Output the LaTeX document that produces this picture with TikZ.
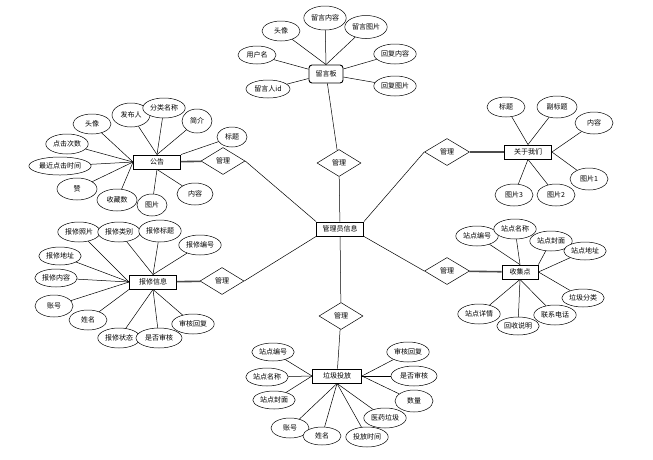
\documentclass[tikz,border=0pt]{standalone}
\usepackage{fontspec}
\newfontfamily\cjk{Noto Sans CJK SC}
\usepackage{tikz}
\usetikzlibrary{shapes.geometric}

\tikzset{
  entity/.style={draw, line width=0.9pt, fill=white, minimum width=47pt, minimum height=14pt, inner sep=1pt, font={\cjk\fontsize{7}{8}\selectfont}},
  attr/.style={draw, ellipse, line width=0.5pt, fill=white, inner sep=1pt, minimum width=38pt, minimum height=20pt, font={\cjk\fontsize{7}{8}\selectfont}},
  rel/.style={draw, diamond, line width=0.5pt, fill=white, inner sep=0pt, minimum width=44pt, minimum height=27pt, font={\cjk\fontsize{7}{8}\selectfont}},
  heavy/.style={line width=1.6pt, black!70}
}

\begin{document}
\begin{tikzpicture}[x=1pt, y=-1pt, line width=0.5pt]
        \useasboundingbox (0,0) rectangle (653,459);

        % Central entity
        \node[entity] (gly) at (340,229) {管理员信息};

        % Message board
        \node[entity, rounded corners=3pt, minimum width=34pt, minimum height=18pt] (lyb) at (326,74) {留言板};
        \node[rel] (r1) at (339,163) {管理};
        \node[attr] (ly1) at (281,31) {头像};
        \node[attr, minimum height=24pt] (ly2) at (325,18) {留言内容};
        \node[attr, minimum height=23pt] (ly3) at (366,27) {留言图片};
        \node[attr, minimum height=18pt] (ly4) at (257,55) {用户名};
        \node[attr] (ly5) at (395,54) {回复内容};
        \node[attr] (ly6) at (395,86) {回复图片};
        \node[attr, minimum width=44pt, minimum height=18pt] (ly7) at (268,89) {留言人id};
        \foreach \a/\b in {lyb.north/ly1, lyb.north/ly2, lyb.north/ly3, lyb/ly4, lyb/ly5, lyb/ly6, lyb/ly7}
            \draw (\a) -- (\b);
        \draw (lyb) -- (r1);
        \draw (r1) -- (gly);

        % Notices
        \node[entity] (gg) at (157,162) {公告};
        \node[rel] (r2) at (223,161) {管理};
        \node[attr] (gg1) at (92,124) {头像};
        \node[attr, minimum height=24pt] (gg2) at (131,115) {发布人};
        \node[attr] (gg3) at (164,108) {分类名称};
        \node[attr, minimum width=30pt, minimum height=24pt] (gg4) at (197,121) {简介};
        \node[attr, minimum width=30pt] (gg5) at (232,137) {标题};
        \node[attr] (gg6) at (67,144) {点击次数};
        \node[attr, minimum height=18pt] (gg7) at (60,166) {最近点击时间};
        \node[attr, minimum width=40pt, minimum height=22pt] (gg8) at (77,189) {赞};
        \node[attr, minimum width=40pt, minimum height=22pt] (gg9) at (117,200) {收藏数};
        \node[attr, minimum width=30pt, minimum height=22pt] (gg10) at (152,205) {图片};
        \node[attr, minimum width=36pt, minimum height=22pt] (gg11) at (195,194) {内容};
        \foreach \a/\b in {gg.west/gg1, gg.north/gg2, gg.north/gg3, gg.north/gg4, gg.north east/gg5,
                           gg.west/gg6, gg.west/gg7, gg.west/gg8, gg.west/gg9, gg.south/gg10, gg.south/gg11}
            \draw (\a) -- (\b);
        \draw[heavy] (gg) -- (r2);
        \draw (r2.east) -- (gly.north west);

        % Repair requests
        \node[entity] (bx) at (153,282) {报修信息};
        \node[rel] (r3) at (222,281) {管理};
        \node[attr] (bx1) at (79,232) {报修照片};
        \node[attr] (bx2) at (119,232) {报修类别};
        \node[attr, minimum height=22pt] (bx3) at (160,231) {报修标题};
        \node[attr] (bx4) at (200,245) {报修编号};
        \node[attr, minimum height=18pt] (bx5) at (60,256) {报修地址};
        \node[attr, minimum height=18pt] (bx6) at (56,278) {报修内容};
        \node[attr, minimum height=22pt] (bx7) at (54,306) {账号};
        \node[attr] (bx8) at (88,320) {姓名};
        \node[attr] (bx9) at (119,338) {报修状态};
        \node[attr, minimum width=46pt] (bx10) at (159,338) {是否审核};
        \node[attr] (bx11) at (193,324) {审核回复};
        \foreach \a/\b in {bx.west/bx1, bx.north/bx2, bx.north/bx3, bx.north/bx4, bx.west/bx5, bx.west/bx6,
                           bx.west/bx7, bx.south west/bx8, bx.south/bx9, bx.south/bx10, bx.south/bx11}
            \draw (\a) -- (\b);
        \draw[heavy] (bx) -- (r3);
        \draw (r3.east) -- (gly.south west);

        % Waste drop-off
        \node[entity, minimum width=49pt] (lj) at (337,376) {垃圾投放};
        \node[rel] (r4) at (341,316) {管理};
        \node[attr, minimum height=18pt] (lj1) at (273,352) {站点编号};
        \node[attr, minimum height=18pt] (lj2) at (267,377) {站点名称};
        \node[attr, minimum height=18pt] (lj3) at (274,400) {站点封面};
        \node[attr] (lj4) at (290,428) {账号};
        \node[attr, minimum height=18pt] (lj5) at (322,436) {姓名};
        \node[attr] (lj6) at (367,437) {投放时间};
        \node[attr] (lj7) at (385,418) {医药垃圾};
        \node[attr, minimum height=22pt] (lj8) at (414,401) {数量};
        \node[attr, minimum width=46pt] (lj9) at (414,376) {是否审核};
        \node[attr] (lj10) at (408,352) {审核回复};
        \foreach \a/\b in {lj.west/lj1, lj.west/lj2, lj.west/lj3, lj.south/lj4, lj.south/lj5, lj.south/lj6,
                           lj.south/lj7, lj.east/lj8, lj.east/lj9, lj.east/lj10}
            \draw (\a) -- (\b);
        \draw (gly) -- (r4);
        \draw (r4) -- (lj);

        % About us
        \node[entity] (gy) at (528,152) {关于我们};
        \node[rel, minimum width=45pt] (r5) at (447,152) {管理};
        \node[attr] (gy1) at (506,107) {标题};
        \node[attr, minimum width=40pt, minimum height=22pt] (gy2) at (557,107) {副标题};
        \node[attr, minimum height=22pt] (gy3) at (594,123) {内容};
        \node[attr, minimum height=22pt] (gy4) at (589,179) {图片1};
        \node[attr, minimum height=22pt] (gy5) at (556,195) {图片2};
        \node[attr, minimum height=22pt] (gy6) at (514,195) {图片3};
        \foreach \a/\b in {gy.north/gy1, gy.north/gy2, gy.east/gy3, gy.east/gy4, gy.south/gy5, gy.south/gy6}
            \draw (\a) -- (\b);
        \draw[heavy] (r5) -- (gy);
        \draw (r5.west) -- (gly.north east);

        % Collection points
        \node[entity, minimum width=36pt] (sj) at (520,272) {收集点};
        \node[rel, minimum width=45pt] (r6) at (447,271) {管理};
        \node[attr] (sj1) at (477,236) {站点编号};
        \node[attr] (sj2) at (515,229) {站点名称};
        \node[attr] (sj3) at (551,241) {站点封面};
        \node[attr, minimum height=18pt] (sj4) at (585,251) {站点地址};
        \node[attr, minimum height=18pt] (sj5) at (583,298) {垃圾分类};
        \node[attr] (sj6) at (555,315) {联系电话};
        \node[attr, minimum height=18pt] (sj7) at (518,326) {回收说明};
        \node[attr] (sj8) at (479,314) {站点详情};
        \foreach \a/\b in {sj.north/sj1, sj.north/sj2, sj.north east/sj3, sj.east/sj4, sj.east/sj5,
                           sj.south/sj6, sj.south/sj7, sj.south/sj8}
            \draw (\a) -- (\b);
        \draw[heavy] (r6) -- (sj);
        \draw (r6.west) -- (gly.south east);
    \end{tikzpicture}
\end{document}
